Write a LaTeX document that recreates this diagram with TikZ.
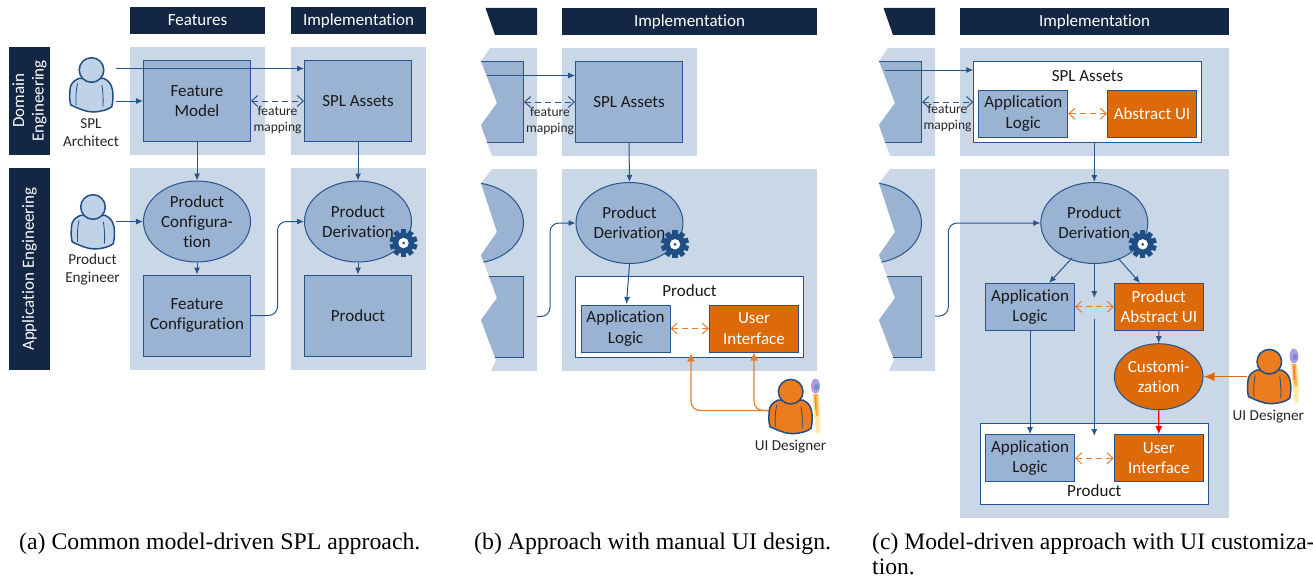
\documentclass[tikz,border=0pt]{standalone}
\usepackage{fontspec}
\setmainfont{Carlito}[Ligatures=NoCommon]
\newfontfamily\capfont{Liberation Serif}
\usepackage{tikz}
\usetikzlibrary{shapes.geometric}
\usetikzlibrary{arrows.meta}

\definecolor{navyband}{RGB}{19,39,68}
\definecolor{panelbg}{RGB}{202,215,231}
\definecolor{boxblue}{RGB}{154,179,210}
\definecolor{lineblue}{RGB}{40,84,140}
\definecolor{darkblue}{RGB}{31,78,133}
\definecolor{personblue}{RGB}{191,210,231}
\definecolor{boxorange}{RGB}{221,106,8}
\definecolor{lineorange}{RGB}{232,126,44}
\definecolor{personorange}{RGB}{236,124,30}
\newcommand{\boxfont}{\fontsize{17}{20.3}\selectfont}
\newcommand{\smallfont}{\fontsize{15.2}{18}\selectfont}
\newcommand{\mapfont}{\fontsize{13.5}{16}\selectfont}
\newcommand{\cutupper}{(9,48) -- (0,61) -- (16,103) -- (0,125) -- (11,156) -- (56,156) -- (56,48) -- cycle}
\newcommand{\cutlower}{(11,169) -- (0,183) -- (16,232) -- (0,255) -- (16,298) -- (0,320) -- (15,360) -- (10,371) -- (56,371) -- (56,169) -- cycle}

\tikzset{
	band/.style={fill=navyband, text=white, inner sep=0pt, font=\boxfont, align=center},
	panel/.style={fill=panelbg, inner sep=0pt},
	rbox/.style={rectangle, draw=lineblue, fill=boxblue, line width=1pt, inner sep=0pt, font=\boxfont, align=center, text=black!90},
	obox/.style={rbox, fill=boxorange, text=white},
	wbox/.style={rbox, fill=white, minimum width=228pt, minimum height=81pt},
	bigbox/.style={rbox, minimum width=107pt, minimum height=81pt},
	subbox/.style={rbox, minimum width=89pt, minimum height=47pt},
	osubbox/.style={obox, minimum width=89pt, minimum height=47pt},
	oval/.style={ellipse, draw=lineblue, fill=boxblue, line width=1pt, inner sep=0pt, minimum width=107pt, minimum height=81pt, font=\boxfont, align=center, text=black!90},
	plainlabel/.style={inner sep=0pt, font=\boxfont, align=center, text=black!90},
	smalllabel/.style={inner sep=0pt, font=\smallfont, align=center, text=black!85},
	maplabel/.style={inner sep=0pt, font=\mapfont, align=center, text=black!85},
	flow/.style={draw=lineblue, line width=1pt, -{Latex[length=7pt,width=6pt]}},
	mapping/.style={draw=lineblue, line width=1pt, dash pattern=on 6pt off 4pt, {Straight Barb[length=6pt,width=11pt]}-{Straight Barb[length=6pt,width=11pt]}},
	omapping/.style={mapping, draw=lineorange},
	oflow/.style={draw=lineorange, line width=1.2pt, -{Latex[length=8pt,width=8pt]}},
	caption/.style={inner sep=0pt, anchor=north west, align=left, font=\capfont\fontsize{23.8}{25}\selectfont},
	personicon/.pic={
		\path[pic actions, draw=darkblue, line width=1.5pt] (-13,8.5) .. controls (-18,11) and (-21.5,14) .. (-21.5,20)
			.. controls (-22,26) and (-22,31) .. (-20.7,35) .. controls (-12,39) and (-5,42) .. (2,42)
			.. controls (10,41.5) and (16,40) .. (20.3,36.7) .. controls (21.5,31) and (22,26) .. (21,20)
			.. controls (20,14) and (17,10.5) .. (12,8.3) -- cycle;
		\draw[darkblue, line width=0.8pt] (-14,13.3) .. controls (-15.5,21) and (-16,29) .. (-15.3,35);
		\draw[darkblue, line width=0.8pt] (10.4,15) .. controls (11.5,22) and (12,30) .. (11.4,36.7);
		\path[pic actions, draw=darkblue, line width=1.5pt] (0,0) circle (12.3pt);
	},
	brushicon/.pic={
		\fill[yellow!50!orange, opacity=0.35] (-3.5,8) -- (3.5,8) -- (5,30) -- (4,47) -- (1,47) -- (-1.5,30) -- cycle;
		\fill[orange, opacity=0.55] (-2,8) -- (2,8) -- (3,30) -- (0.5,30) -- cycle;
		\fill[red!70!orange, opacity=0.3] (-1,10) rectangle (0.5,24);
		\fill[blue!45!violet, opacity=0.4] (0,0) ellipse (4.5pt and 7.5pt);
		\fill[cyan!60!blue, opacity=0.4] (1,1) ellipse (2.5pt and 3.5pt);
	},
	gearicon/.pic={
		\foreach \ang in {0,36,...,324}{
			\fill[darkblue, rotate=\ang] (-2.6,-14) rectangle (2.6,0);
		}
		\fill[darkblue] (0,0) circle (10.8pt);
		\fill[white] (0,0) circle (5.2pt);
		\fill[darkblue] (0,0) circle (1.5pt);
	},
	% cut-off feature column of the panels (b) and (c)
	cutcolumn/.pic={
		\fill[navyband] (4.5,8) -- (14,35) -- (56,35) -- (56,8) -- cycle;
		\fill[panelbg] \cutupper;
		\begin{scope}
			\clip \cutupper;
			\node[bigbox] (-model) at (-11,102) {};
		\end{scope}
		\fill[panelbg] \cutlower;
		\begin{scope}
			\clip \cutlower;
			\node[oval] (-config) at (-11,223) {};
			\node[bigbox] (-fconf) at (-11,316.5) {};
		\end{scope}
	}
}

\begin{document}
\begin{tikzpicture}[x=1pt,y=-1pt]
	\useasboundingbox (0,0) rectangle (1313,578);

	% Panel (a)
	\node[band, minimum width=135pt, minimum height=27pt] (aHeadF) at (197.5,20.5) {Features};
	\node[band, minimum width=135pt, minimum height=27pt] (aHeadI) at (358.5,20.5) {Implementation};
	\node[band, minimum width=108pt, minimum height=41pt, rotate=90] (aDomain) at (29.5,101) {Domain\\[-1pt]Engineering};
	\node[band, minimum width=202pt, minimum height=41pt, rotate=90] (aApp) at (29.5,269) {Application Engineering};
	\node[panel, minimum width=135pt, minimum height=108pt] (aBgA) at (197.5,101) {};
	\node[panel, minimum width=135pt, minimum height=108pt] (aBgB) at (358.5,101) {};
	\node[panel, minimum width=135pt, minimum height=202pt] (aBgC) at (197.5,269) {};
	\node[panel, minimum width=135pt, minimum height=202pt] (aBgD) at (358.5,269) {};

	\node[bigbox] (aModel) at (197,101) {Feature\\Model};
	\node[bigbox] (aAssets) at (358,101) {SPL Assets};
	\node[oval] (aConfig) at (197,221.5) {Product\\Configura-\\tion};
	\node[oval] (aDeriv) at (358,221.5) {Product\\Derivation};
	\node[bigbox] (aFconf) at (197,315.5) {Feature\\Configuration};
	\node[bigbox] (aProduct) at (358,315.5) {Product};
	\pic at (403.5,243) {gearicon};

	\pic[fill=personblue] at (91.5,70) {personicon};
	\node[smalllabel] (aArchitect) at (91,133) {SPL\\Architect};
	\pic[fill=personblue] at (93,207) {personicon};
	\node[smalllabel] (aEngineer) at (92.5,270) {Product\\Engineer};
	\node[maplabel] (aMapText) at (277.5,120.5) {feature\\mapping};

	\coordinate (aArchTop) at (116,68.5);
	\coordinate (aArchLow) at (116,101);
	\coordinate (aEngOut) at (116,221.5);
	\coordinate (aBend) at (277.5,221.5);
	\draw[flow] (aArchTop) -- (aAssets.west |- aArchTop);
	\draw[flow] (aArchLow) -- (aModel.west);
	\draw[flow] (aEngOut) -- (aConfig.west);
	\draw[mapping] (aModel.east) -- (aAssets.west);
	\draw[flow] (aModel.south) -- (aConfig.north);
	\draw[flow] (aAssets.south) -- (aDeriv.north);
	\draw[flow] (aConfig.south) -- (aFconf.north);
	\draw[flow] (aDeriv.south) -- (aProduct.north);
	\draw[flow, rounded corners=9pt] (aFconf.east) -| (aBend) -- (aDeriv.west);

	% Panel (b)
	\pic (b) at (481,0) {cutcolumn};
	\node[band, minimum width=255pt, minimum height=27pt] (bHead) at (689.5,21.5) {Implementation};
	\node[panel, minimum width=135pt, minimum height=108pt] (bBgA) at (629.5,102) {};
	\node[panel, minimum width=255pt, minimum height=202pt] (bBgB) at (689.5,270) {};

	\node[bigbox] (bAssets) at (629,102) {SPL Assets};
	\node[oval] (bDeriv) at (629.5,223) {Product\\Derivation};
	\node[wbox] (bProduct) at (689.5,317) {};
	\node[plainlabel] (bProdText) at (689.5,291) {Product};
	\node[subbox] (bLogic) at (625.5,328.5) {Application\\Logic};
	\node[osubbox] (bUi) at (754,328.5) {User\\Interface};
	\pic at (675,244.3) {gearicon};

	\node[maplabel] (bMapText) at (550,121.5) {feature\\mapping};
	\coordinate (bIn) at (487,75.5);
	\coordinate (bOut) at (537,316.5);
	\coordinate (bBend) at (550,223);
	\coordinate (bFoot) at (770,410.5);
	\coordinate (bTip) at (691,353.5);
	\coordinate (bLogicIn) at (626.5,304);
	\draw[flow] (bIn) -- (bAssets.west |- bIn);
	\draw[mapping] (b-model.east) -- (bAssets.west);
	\draw[flow] (bAssets.south) -- (bDeriv.north);
	\draw[flow, rounded corners=9pt] (bOut) -| (bBend) -- (bDeriv.west);
	\draw[flow] (bDeriv.south) -- (bLogicIn);
	\draw[omapping] (bLogic.east) -- (bUi.west);
	\draw[oflow, rounded corners=9pt] (bFoot) -| (bTip);
	\draw[oflow, rounded corners=9pt] (bFoot) -| (bUi.south);
	\pic[fill=personorange] at (790.7,391.7) {personicon};
	\pic at (815.5,386) {brushicon};
	\node[smalllabel] (bDesigner) at (790.5,446.5) {UI Designer};

	% Panel (c)
	\pic (c) at (879,0) {cutcolumn};
	\node[band, minimum width=269pt, minimum height=27pt] (cHead) at (1094.5,21.5) {Implementation};
	\node[panel, minimum width=269pt, minimum height=108pt] (cBgA) at (1094.5,102) {};
	\node[panel, minimum width=269pt, minimum height=349pt] (cBgB) at (1094.5,343.5) {};

	\node[wbox] (cAssets) at (1087.8,102.2) {};
	\node[plainlabel] (cAssetsText) at (1087.5,76) {SPL Assets};
	\node[subbox] (cLogicA) at (1023.3,113.7) {Application\\Logic};
	\node[osubbox] (cAbstract) at (1152,113.7) {Abstract UI};
	\node[oval] (cDeriv) at (1094.3,223) {Product\\Derivation};
	\pic at (1142.7,244.3) {gearicon};
	\node[subbox] (cLogicB) at (1030,306.8) {Application\\Logic};
	\node[osubbox] (cProdUi) at (1158.8,306.8) {Product\\Abstract UI};
	\node[oval, fill=boxorange, text=white, minimum width=88.6pt, minimum height=66pt] (cCustom) at (1158.7,376.7) {Customi-\\zation};
	\node[wbox] (cProduct) at (1094.7,464.3) {};
	\node[plainlabel] (cProdText) at (1094.3,490.7) {Product};
	\node[subbox] (cLogicC) at (1030,458.2) {Application\\Logic};
	\node[osubbox] (cUi) at (1158.8,458.2) {User\\Interface};

	\node[maplabel] (cMapText) at (947.5,118) {feature\\mapping};
	\coordinate (cIn) at (885,70);
	\coordinate (cOut) at (935,316);
	\coordinate (cBend) at (948.3,223);
	\coordinate (cMidA) at (1094.3,298);
	\coordinate (cMidB) at (1094.3,318.5);
	\coordinate (cMidC) at (1094.3,436);
	\coordinate (cDesOut) at (1246.7,376.7);
	\coordinate (cLeftOut) at (1072,258);
	\coordinate (cLeftIn) at (1049,283);
	\coordinate (cRightOut) at (1118,258);
	\coordinate (cRightIn) at (1140,283);
	\draw[flow] (cIn) -- (cAssets.west |- cIn);
	\draw[mapping] (c-model.east) -- (cAssets.west |- c-model.east);
	\draw[omapping] (cLogicA.east) -- (cAbstract.west);
	\draw[flow] (cAssets.south -| cDeriv.north) -- (cDeriv.north);
	\draw[flow, rounded corners=9pt] (cOut) -| (cBend) -- (cDeriv.west);
	\draw[flow] (cLeftOut) -- (cLeftIn);
	\draw[flow] (cRightOut) -- (cRightIn);
	\draw[flow] (cDeriv.south) -- (cMidA);
	\draw[flow] (cMidB) -- (cMidC);
	\draw[omapping] (cLogicB.east) -- (cProdUi.west);
	\draw[omapping] (cLogicC.east) -- (cUi.west);
	\draw[flow] (cProdUi.south) -- (cCustom.north);
	\draw[flow] (cLogicB.south) -- (cLogicC.north);
	\draw[red, line width=1.2pt, -{Latex[length=8pt,width=7pt]}] (cCustom.south) -- (cUi.north);
	\draw[boxorange, line width=1.2pt, -{Latex[length=11pt,width=9pt]}] (cDesOut) -- (cCustom.east);
	\pic[fill=personorange] at (1269.3,361.7) {personicon};
	\pic at (1294,356) {brushicon};
	\node[smalllabel] (cDesigner) at (1268.3,416.7) {UI Designer};

	% Captions
	\node[caption] (capA) at (19,532.5) {(a) Common model-driven SPL approach.};
	\node[caption] (capB) at (474,532.5) {(b) Approach with manual UI design.};
	\node[caption, font=\capfont\fontsize{23.6}{25}\selectfont] (capC) at (872,532.5) {(c) Model-driven approach with UI customiza-\\tion.};
\end{tikzpicture}
\end{document}
